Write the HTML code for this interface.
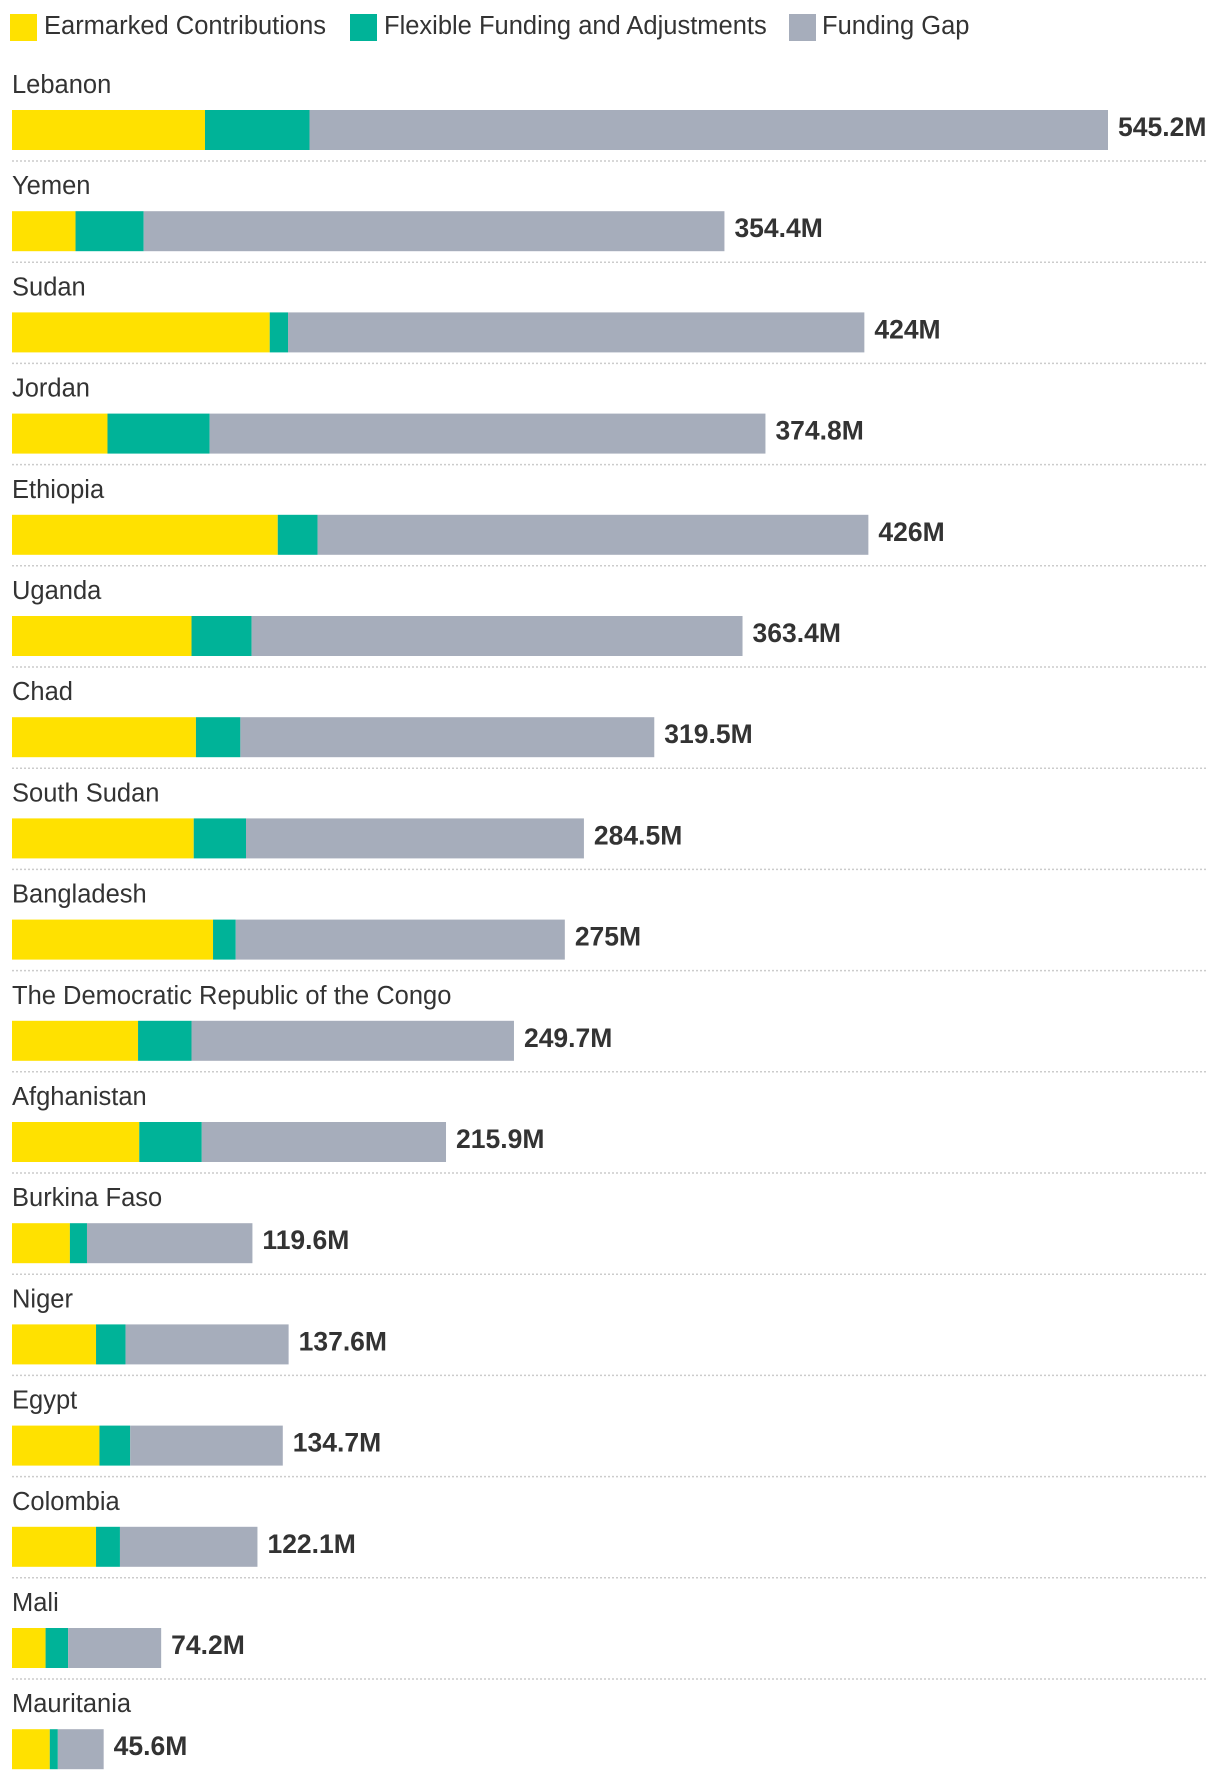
<!DOCTYPE html>
<html><head><meta charset="utf-8">
<style>
html,body{margin:0;padding:0;background:#fff;width:1220px;height:1780px;overflow:hidden;font-family:"Liberation Sans",sans-serif;}
svg text{font-family:"Liberation Sans",sans-serif;}
</style></head>
<body>
<svg id="chart" width="1220" height="1780" viewBox="0 0 1220 1780" xmlns="http://www.w3.org/2000/svg">
  <g>
    <rect x="10" y="14" width="27" height="27" fill="#FFE100"/>
    <text x="44" y="34" font-size="25.5" fill="#333">Earmarked Contributions</text>
    <rect x="350" y="14" width="27" height="27" fill="#00B398"/>
    <text x="384" y="34" font-size="25.5" fill="#333">Flexible Funding and Adjustments</text>
    <rect x="789" y="14" width="27" height="27" fill="#A6ADBB"/>
    <text x="822" y="34" font-size="25.5" fill="#333">Funding Gap</text>
  </g>
  <g id="rows"></g>
</svg>
<script>
const countries = ["Lebanon","Yemen","Sudan","Jordan","Ethiopia","Uganda","Chad","South Sudan","Bangladesh","The Democratic Republic of the Congo","Afghanistan","Burkina Faso","Niger","Egypt","Colombia","Mali","Mauritania"];
const totals = [545.2,354.4,424,374.8,426,363.4,319.5,284.5,275,249.7,215.9,119.6,137.6,134.7,122.1,74.2,45.6];
const earmarked = [96.0,31.6,128.2,47.5,132.2,89.3,91.5,90.4,100.0,62.7,63.3,28.8,41.8,43.5,41.8,16.7,18.8];
const flexible = [52.0,33.9,9.1,50.8,19.8,29.9,22.1,26.0,11.3,26.6,31.1,8.5,14.7,15.3,11.9,11.2,4.0];
const valueLabels = ["545.2M","354.4M","424M","374.8M","426M","363.4M","319.5M","284.5M","275M","249.7M","215.9M","119.6M","137.6M","134.7M","122.1M","74.2M","45.6M"];

const NS = "http://www.w3.org/2000/svg";
const x0 = 12, pxPerM = 1096/545.2;
const xScale = v => v * pxPerM;
const rowY = i => 110 + i * 101.2;
const g = document.getElementById('rows');
function mk(tag, attrs){const e=document.createElementNS(NS,tag);for(const k in attrs)e.setAttribute(k,attrs[k]);return e;}

countries.forEach((c,i)=>{
  const y = rowY(i);
  const row = mk('g',{});
  
  
  const lbl = mk('text',{x:x0,y:y-17,'font-size':25.5,fill:'#333'});
  
  
  lbl.textContent = c;
  row.appendChild(lbl);
  const gap = totals[i] - earmarked[i] - flexible[i];
  const segs = [[earmarked[i],'#FFE100','bar-earmarked'],[flexible[i],'#00B398','bar-flexible'],[gap,'#A6ADBB','bar-gap']];
  let acc = 0;
  segs.forEach(s=>{
    const r = mk('rect',{x:x0+xScale(acc),y:y,width:Math.max(0,xScale(s[0])),height:40,fill:s[1]});
    
    
    row.appendChild(r);
    acc += s[0];
  });
  const v = mk('text',{x:x0+xScale(totals[i])+10,y:y+26,'font-size':26.5,'font-weight':'bold',fill:'#333'});
  
  
  v.textContent = valueLabels[i];
  row.appendChild(v);
  const sep = mk('line',{x1:x0,x2:1208,y1:y+51,y2:y+51,stroke:'#ccc','stroke-width':1.5,'stroke-dasharray':'2 2'});
  
  
  if(i < countries.length-1) row.appendChild(sep);
  g.appendChild(row);
});
</script>
</body></html>
